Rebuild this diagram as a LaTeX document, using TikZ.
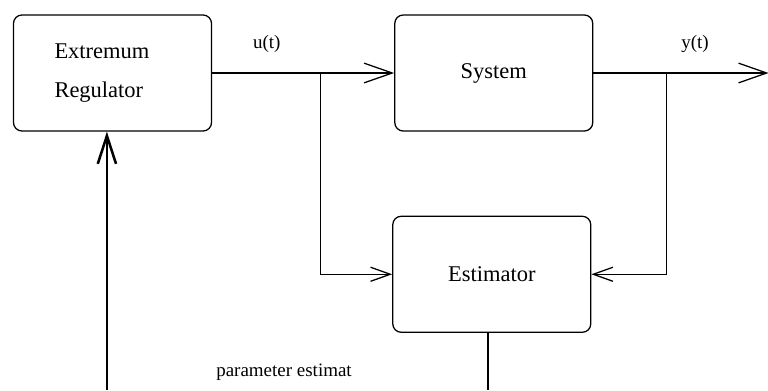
\documentclass[tikz,border=0pt]{standalone}
\usepackage{fontspec}
\setmainfont{Liberation Serif}
\usepackage{tikz}
\usetikzlibrary{arrows.meta, positioning, calc}
\tikzset{
  block/.style={
    rectangle, rounded corners=6pt, minimum width=4.95cm, minimum height=2.9cm,
    draw, line width=0.9pt, text centered, font=\fontsize{16}{18}\selectfont
  },
  sig/.style={line width=0.9pt},
  arrow/.style={-{Straight Barb[length=20pt, width=14pt]}, line width=0.9pt},
  arrowsmall/.style={-{Straight Barb[length=14pt, width=10pt]}, line width=0.9pt},
  arrowthick/.style={-{Straight Barb[length=20pt, width=13pt]}, line width=1.8pt},
  thickline/.style={line width=1.8pt},
  sigtext/.style={font=\fontsize{13.5}{16}\selectfont}
}
\begin{document}
\begin{tikzpicture}
  \useasboundingbox (0,0) rectangle (19.2,-9.75);
  \node[block, align=left, inner xsep=1.025cm, text width=2.9cm,
        font=\fontsize{16}{28}\selectfont] (reg) at (2.8125,-1.825) {Extremum\\Regulator};
  \node[block, right=4.55cm of reg] (sys) {System};
  \node[block, below=2.1cm of sys, xshift=-0.05cm] (est) {Estimator};

  \coordinate (usplit) at ([xshift=2.7cm]reg.east);
  \coordinate (ysplit) at ([xshift=1.825cm]sys.east);
  \coordinate (out) at ([xshift=4.38cm]sys.east);
  \coordinate (rbot) at ([xshift=-0.14cm]reg.south |- 0,-9.75);
  \coordinate (ebot) at ([xshift=-0.1cm]est.south |- 0,-9.75);

  \draw[arrow] (reg.east) -- (sys.west)
    node[sigtext, above=11pt, pos=0.3]{u(t)};
  \draw[arrow] (sys.east) -- (out)
    node[sigtext, above=11pt, pos=0.58]{y(t)};
  \draw[arrowsmall] (usplit) |- (est.west);
  \draw[arrowsmall] (ysplit) |- (est.east);
  \draw[arrowthick] (rbot) -- (rbot |- reg.south);
  \draw[thickline] (ebot |- est.south) -- (ebot);
  \node[sigtext] (param) at (7.1,-9.3) {parameter estimat};
\end{tikzpicture}
\end{document}
